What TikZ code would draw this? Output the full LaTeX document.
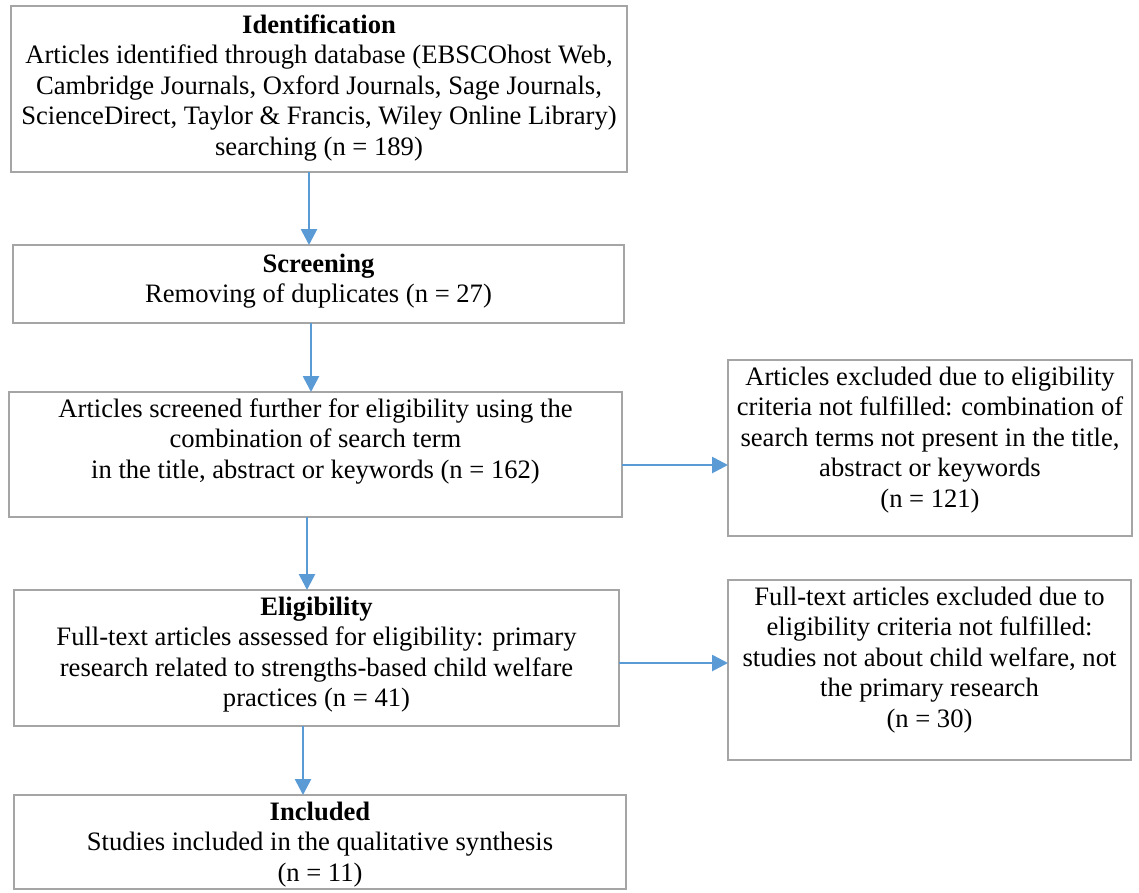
\documentclass[tikz,border=0pt]{standalone}
\usepackage{fontspec}
\setmainfont{Liberation Serif}
\usetikzlibrary{arrows.meta}
\definecolor{boxgray}{HTML}{A5A5A5}
\definecolor{arrblue}{HTML}{5B9BD5}
\newcommand\bxtext[4]{\parbox[c][#2][t]{#1}{\centering\rule{0pt}{#3}#4}}
\begin{document}
\begin{tikzpicture}[x=1pt,y=-1pt,
  flowbox/.style={draw=boxgray,line width=2pt,inner sep=0pt,outer sep=0pt,anchor=north west,
    font=\fontsize{26.6pt}{30.6pt}\selectfont},
  arr/.style={draw=arrblue,line width=2.7pt,-{Triangle[length=16pt,width=16pt]}}]
\useasboundingbox (0,0) rectangle (1139,892);
\node[flowbox] (b1) at (11,6) {\bxtext{616pt}{166pt}{27pt}{\textbf{Identification}\\
  Articles identified through database (EBSCOhost Web,\\
  Cambridge Journals, Oxford Journals, Sage Journals,\\
  ScienceDirect, Taylor \& Francis, Wiley Online Library)\\
  searching (n = 189)}};
\node[flowbox] (b2) at (13,245) {\bxtext{611pt}{78pt}{27pt}{\textbf{Screening}\\
  Removing of duplicates (n = 27)}};
\node[flowbox] (b3) at (9,392) {\bxtext{613pt}{125pt}{25pt}{Articles screened further for eligibility using the\\
  combination of search term\\
  in the title, abstract or keywords (n = 162)}};
\node[flowbox] (b4) at (728,360) {\bxtext{404pt}{176pt}{25pt}{Articles excluded due to eligibility\\
  criteria not fulfilled: combination of\\
  search terms not present in the title,\\
  abstract or keywords\\
  (n = 121)}};
\node[flowbox] (b5) at (14,590) {\bxtext{605pt}{136pt}{25pt}{\textbf{Eligibility}\\
  Full-text articles assessed for eligibility: primary\\
  research related to strengths-based child welfare\\
  practices (n = 41)}};
\node[flowbox] (b6) at (728,580) {\bxtext{403pt}{180pt}{25pt}{Full-text articles excluded due to\\
  eligibility criteria not fulfilled:\\
  studies not about child welfare, not\\
  the primary research\\
  (n = 30)}};
\node[flowbox] (b7) at (14,795) {\bxtext{612pt}{94pt}{25pt}{\textbf{Included}\\
  Studies included in the qualitative synthesis\\
  (n = 11)}};
\coordinate (ax1) at (309,0);
\coordinate (ax2) at (311,0);
\coordinate (ax3) at (307,0);
\coordinate (ax4) at (303,0);
\coordinate (ay1) at (0,465);
\coordinate (ay2) at (0,663);
\draw[arr] (b1.south -| ax1) -- (b2.north -| ax1);
\draw[arr] (b2.south -| ax2) -- (b3.north -| ax2);
\draw[arr] (b3.south -| ax3) -- (b5.north -| ax3);
\draw[arr] (b5.south -| ax4) -- (b7.north -| ax4);
\draw[arr] (b3.east |- ay1) -- (b4.west |- ay1);
\draw[arr] (b5.east |- ay2) -- (b6.west |- ay2);
\end{tikzpicture}
\end{document}
